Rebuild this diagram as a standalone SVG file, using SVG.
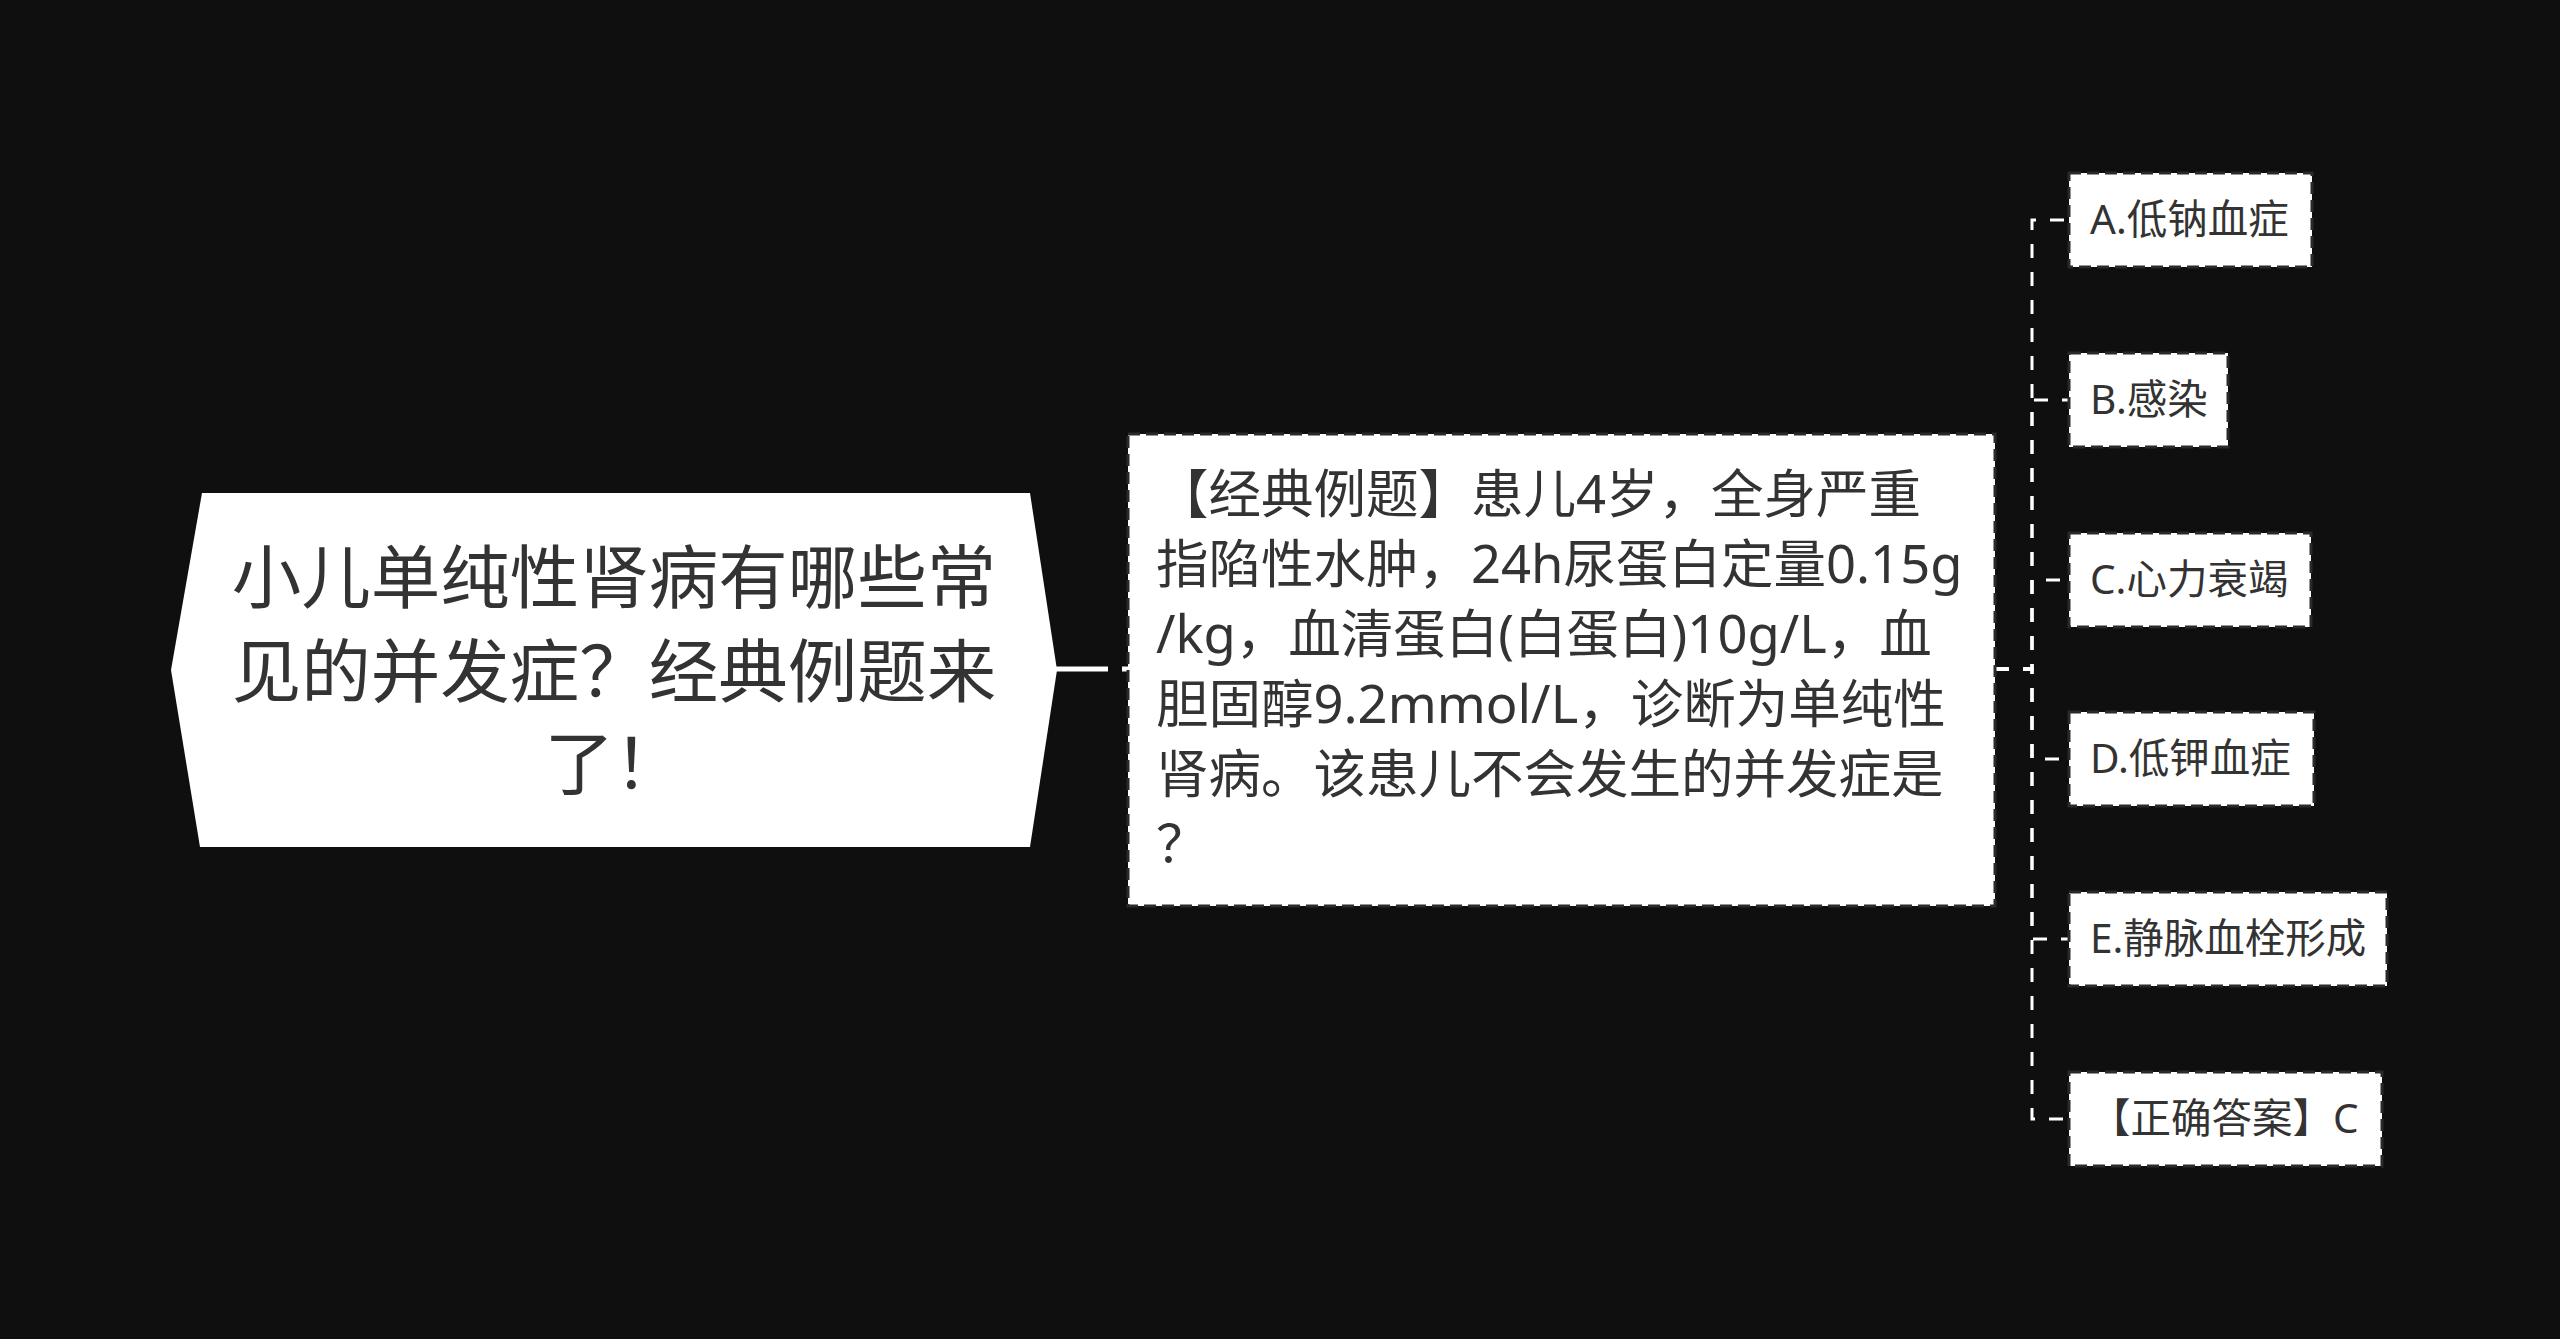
<svg xmlns="http://www.w3.org/2000/svg" width="2560" height="1339" viewBox="0 0 2560 1339">
<style>
.bg{fill:#0f0f0f}
.box{fill:#ffffff;stroke:#2a2a2a;stroke-width:3;stroke-dasharray:12 6}
.t{font-family:"Noto Sans","Noto Sans CJK SC",sans-serif;fill:#333333}
.root{font-size:69.5px}
.mid{font-size:52.5px}
.leaf{font-size:40.5px}
.conn{fill:none;stroke:#ffffff;stroke-width:3;stroke-dasharray:14 14}
</style>
<rect class="bg" x="0" y="0" width="2560" height="1339"/>
<g id="connectors">
<line x1="1040" y1="669" x2="1130" y2="669" stroke="#ffffff" stroke-width="5" stroke-dasharray="68 14"/>
<path class="conn" d="M1995,669 H2032 V220 H2069"/>
<path class="conn" d="M1995,669 H2032 V400 H2069"/>
<path class="conn" d="M1995,669 H2032 V580 H2069"/>
<path class="conn" d="M1995,669 H2032 V759 H2069"/>
<path class="conn" d="M1995,669 H2032 V939 H2069"/>
<path class="conn" d="M1995,669 H2032 V1119 H2069"/>
</g>
<g id="root">
<polygon points="202,493 1030,493 1057,670 1030,847 200,847 171,670" fill="#ffffff"/>
<text class="t root" x="614" y="603" text-anchor="middle">小儿单纯性肾病有哪些常</text>
<text class="t root" x="614" y="697" text-anchor="middle">见的并发症？经典例题来</text>
<text class="t root" x="614" y="789" text-anchor="middle">了！</text>
</g>
<g id="question">
<rect class="box" x="1128" y="434" width="867" height="472"/>
<text class="t mid" x="1156" y="513">【经典例题】患儿4岁，全身严重</text>
<text class="t mid" x="1156" y="583">指陷性水肿，24h尿蛋白定量0.15g</text>
<text class="t mid" x="1156" y="653">/kg，血清蛋白(白蛋白)10g/L，血</text>
<text class="t mid" x="1156" y="723">胆固醇9.2mmol/L，诊断为单纯性</text>
<text class="t mid" x="1156" y="793">肾病。该患儿不会发生的并发症是</text>
<text class="t mid" x="1156" y="863">？</text>
</g>
<g id="optA">
<rect class="box" x="2069" y="173" width="243" height="94"/>
<text class="t leaf" x="2090" y="234">A.低钠血症</text>
</g>
<g id="optB">
<rect class="box" x="2069" y="353" width="159" height="94"/>
<text class="t leaf" x="2090" y="414">B.感染</text>
</g>
<g id="optC">
<rect class="box" x="2069" y="533" width="242" height="94"/>
<text class="t leaf" x="2090" y="594">C.心力衰竭</text>
</g>
<g id="optD">
<rect class="box" x="2069" y="712" width="245" height="94"/>
<text class="t leaf" x="2090" y="773">D.低钾血症</text>
</g>
<g id="optE">
<rect class="box" x="2069" y="892" width="318" height="94"/>
<text class="t leaf" x="2090" y="953">E.静脉血栓形成</text>
</g>
<g id="answer">
<rect class="box" x="2069" y="1072" width="313" height="94"/>
<text class="t leaf" x="2090" y="1133">【正确答案】C</text>
</g>
</svg>
